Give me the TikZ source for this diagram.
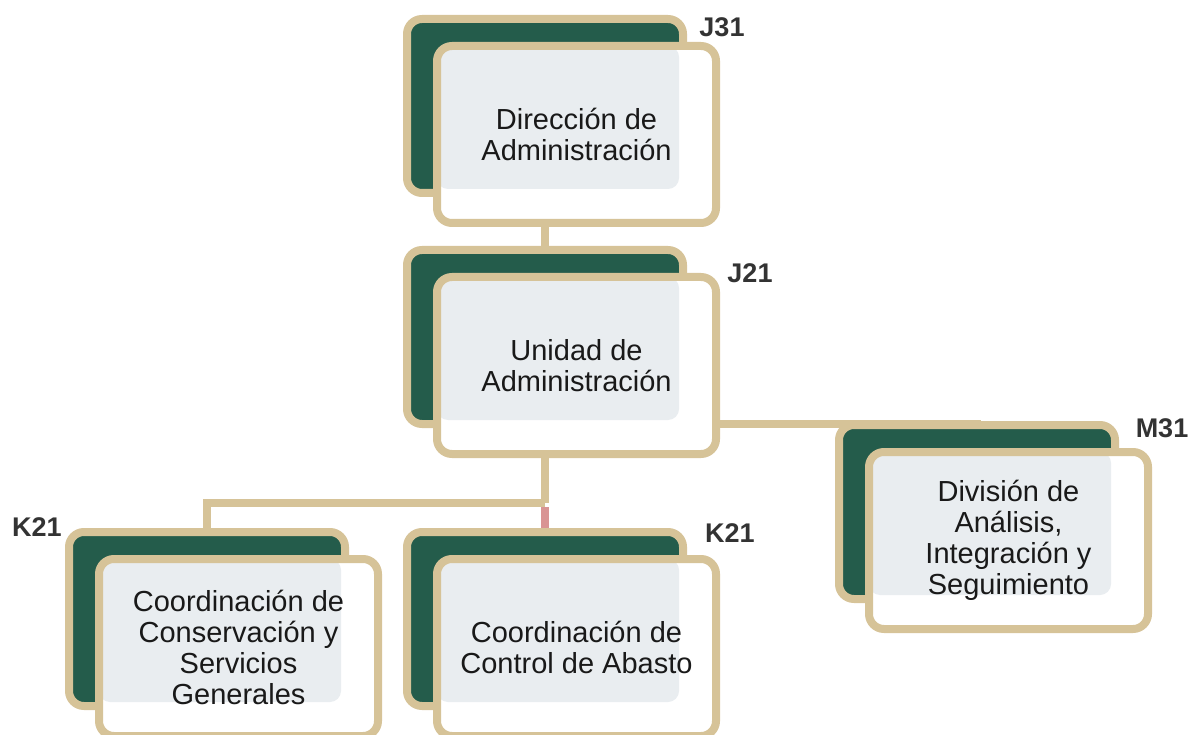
\documentclass[tikz,border=0pt]{standalone}
\usepackage{fontspec}
\setmainfont{Liberation Sans}
\usetikzlibrary{backgrounds}
\definecolor{tan}{HTML}{D6C398}
\definecolor{darkgreen}{HTML}{245C4B}
\definecolor{boxgray}{HTML}{E9EDF0}
\definecolor{linkpink}{HTML}{D99494}
\definecolor{codegray}{HTML}{333333}
\begin{document}
\begin{tikzpicture}[x=1pt,y=-1pt,
    backbox/.style={draw=tan,fill=darkgreen,line width=8pt,rounded corners=15pt,
        minimum width=276pt,minimum height=174pt,inner sep=0pt,outer sep=0pt},
    frontbox/.style={draw=tan,fill=white,line width=8pt,rounded corners=15pt,
        minimum width=279pt,minimum height=177pt,inner sep=0pt,outer sep=0pt,align=center,
        font=\fontsize{29}{31}\selectfont,text=black!90,
        path picture={\fill[boxgray,rounded corners=11pt]
            (path picture bounding box.north west) rectangle
            ([shift={(242pt,-143pt)}]path picture bounding box.north west);}},
    code/.style={font=\fontsize{27}{29}\selectfont\bfseries,text=codegray,inner sep=0pt},
    link/.style={draw=tan,line width=8pt}]
        \useasboundingbox (0,0) rectangle (1197,735);
        % Direccion
        \node[backbox] (dir-back) at (545,106) {};
        \node[frontbox] (dir-front) at (576.5,134.5) {Dirección de\\Administración};
        \node[code] (dir-code) at (722,27) {J31};
        % Unidad
        \node[backbox] (uni-back) at (545,337) {};
        \node[frontbox] (uni-front) at (576.5,365.5) {Unidad de\\Administración};
        \node[code] (uni-code) at (750,273) {J21};
        % Division
        \node[backbox] (div-back) at (977,512) {};
        \node[frontbox] (div-front) at (1008.5,540.5) {División de\\Análisis,\\Integración y\\Seguimiento};
        \node[code] (div-code) at (1162,428) {M31};
        % Conservacion
        \node[backbox] (cons-back) at (207,619) {};
        \node[frontbox] (cons-front) at (238.5,647.5) {Coordinación de\\Conservación y\\Servicios\\Generales};
        \node[code] (cons-code) at (37,527) {K21};
        % Abasto
        \node[backbox] (abas-back) at (545,619) {};
        \node[frontbox] (abas-front) at (576.5,647.5) {Coordinación de\\Control de Abasto};
        \node[code] (abas-code) at (730,533) {K21};
        \coordinate (split) at (545,503);
        \begin{scope}[on background layer]
            \draw[link] (dir-back) -- (uni-back);
            \draw[link] (uni-back.south) -- (uni-back.south -| div-back.north) -- (div-back.north);
            \draw[link] (uni-back) -- (split);
            \draw[link] (split) -| (cons-back);
            \draw[link,draw=linkpink] ([yshift=-4pt]split) -- (abas-back);
        \end{scope}
    \end{tikzpicture}
\end{document}
